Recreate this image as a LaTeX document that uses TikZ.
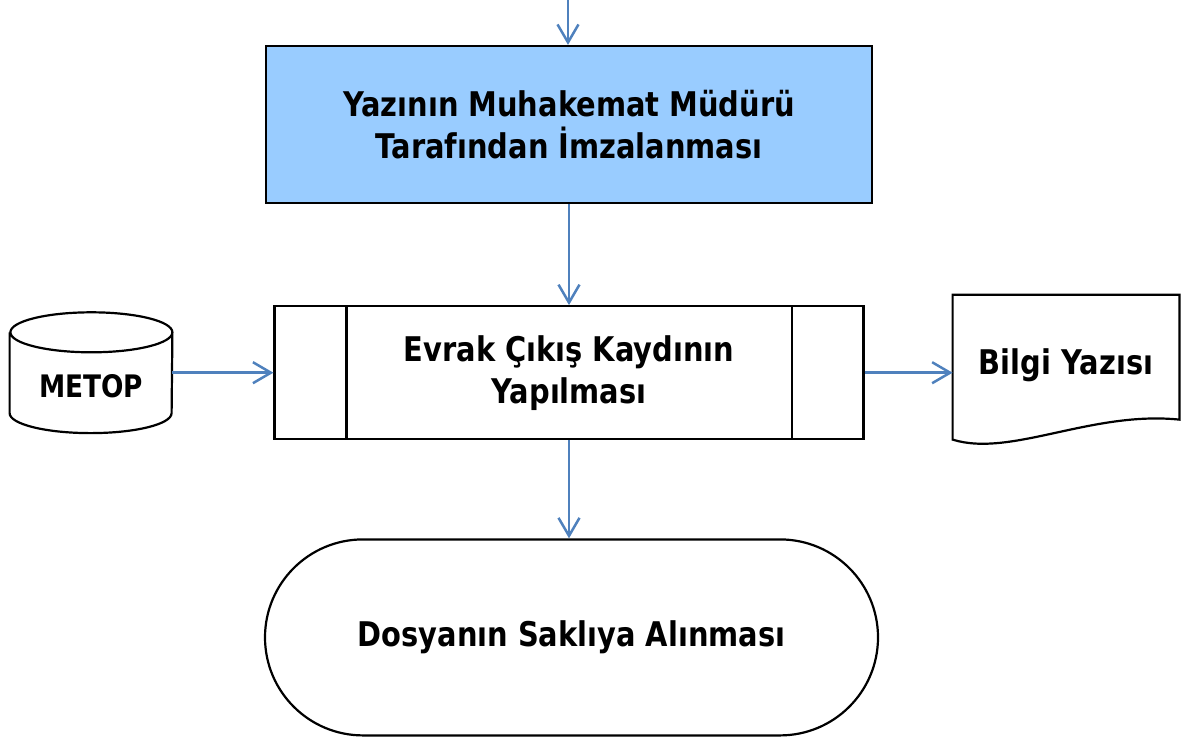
\documentclass[tikz,border=0pt]{standalone}
\usepackage{fontspec}
\setmainfont{DejaVu Sans}[FakeStretch=0.85]
\usepackage{tikz}
\usetikzlibrary{arrows.meta,positioning}
\definecolor{signfill}{HTML}{99CCFF}
\definecolor{flow}{HTML}{4F81BD}

\begin{document}
\begin{tikzpicture}[
  x=0.5pt, y=-0.5pt,
  node distance=50.5pt and 51.5pt,
  every node/.style={font=\bfseries\fontsize{17}{21}\selectfont},
  base/.style={
    rectangle,
    draw=black,
    line width=1.1pt,
    align=center,
    inner sep=0pt
  },
  signbox/.style={base, fill=signfill, minimum width=303pt, minimum height=78.5pt},
  procbox/.style={base, minimum width=294.5pt, minimum height=66.5pt},
  termbox/.style={base, rounded corners=49pt, minimum width=306.5pt, minimum height=98pt},
  dbbox/.style={rectangle, align=center, minimum width=81pt, minimum height=60pt},
  docbox/.style={rectangle, align=center, minimum width=113pt, minimum height=72pt},
  outline/.style={line width=1.1pt, draw=black},
  arrow/.style={-{Straight Barb[length=9pt,width=10.5pt]}, line width=1.25pt, draw=flow}
]
\useasboundingbox (0,0) rectangle (1182,741);

\node[signbox] (sign) at (569,124.5) {Yazının Muhakemat Müdürü\\Tarafından İmzalanması};
\node[procbox, below=of sign] (record) {Evrak Çıkış Kaydının\\Yapılması};
\node[termbox, below=49pt of record, xshift=1.25pt] (archive) {Dosyanın Saklıya Alınması};
\node[dbbox, left=of record, xshift=1pt] (metop) {\raisebox{-12.5pt}[0pt][0pt]{\fontsize{15.5}{18}\selectfont METOP}};
\node[docbox, right=44pt of record, yshift=2.75pt] (info) {\raisebox{-3.5pt}[0pt][0pt]{Bilgi Yazısı}};
\coordinate (top) at (568,0);

% side bars of the process box
\draw[outline] ([xshift=36.5pt]record.north west) -- ([xshift=36.5pt]record.south west);
\draw[outline] ([xshift=-36.5pt]record.north east) -- ([xshift=-36.5pt]record.south east);

% database
\draw[outline] ([yshift=-10pt]metop.north west) -- ([yshift=10pt]metop.south west)
  arc[start angle=180, end angle=360, x radius=40.5pt, y radius=10pt]
  -- ([yshift=-10pt]metop.north east)
  arc[start angle=0, end angle=360, x radius=40.5pt, y radius=10pt];

% document
\draw[outline] (info.south west) -- (info.north west) -- (info.north east)
  -- ([yshift=10pt]info.south east) .. controls +(-88,-9) and +(58,18) .. (info.south west) -- cycle;

\draw[arrow] (top) -- (top |- sign.north);
\draw[arrow] (sign) -- (record);
\draw[arrow] (metop.east) -- (record.west);
\draw[arrow] (record.east) -- (record.east -| info.west);
\draw[arrow] (record.south) -- (record.south |- archive.north);
\end{tikzpicture}
\end{document}
